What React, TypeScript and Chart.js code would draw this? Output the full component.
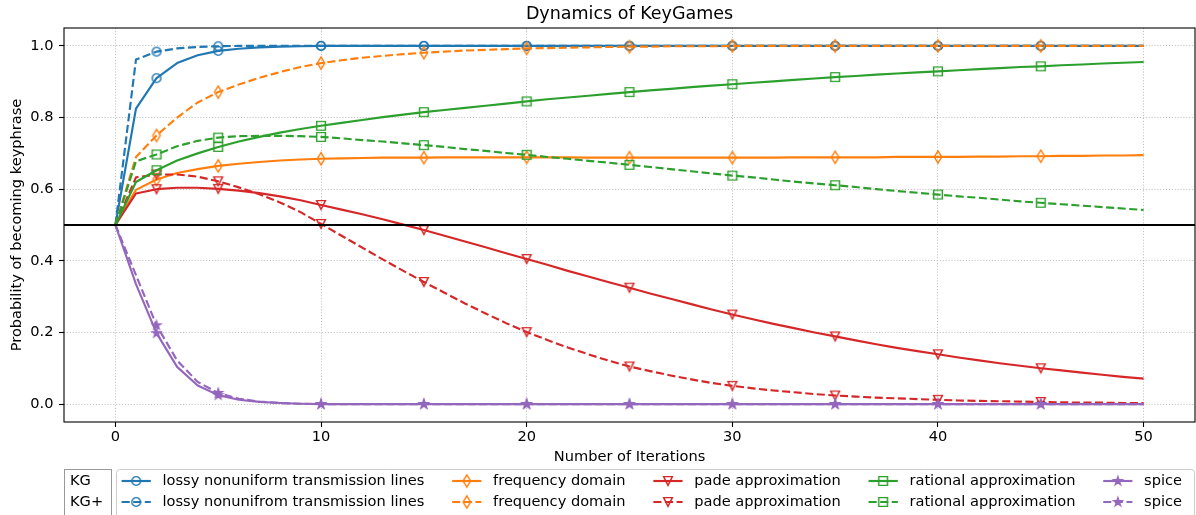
import React, { useEffect, useRef } from 'react';
import { Chart, registerables } from 'chart.js';

Chart.register(...registerables);

// ---------------- data ----------------
const ITERATIONS = [
  0, 1, 2, 3, 4, 5, 6, 7, 8, 9, 10, 11, 12, 13, 14, 15, 16, 17, 18, 19, 20, 21, 22, 23, 24, 25,
  26, 27, 28, 29, 30, 31, 32, 33, 34, 35, 36, 37, 38, 39, 40, 41, 42, 43, 44, 45, 46, 47, 48, 49, 50,
];
const MARKER_ITERATIONS = [2, 5, 10, 15, 20, 25, 30, 35, 40, 45];
const X_TICKS = [0, 10, 20, 30, 40, 50];
const Y_TICKS = [0, 0.2, 0.4, 0.6, 0.8, 1.0];
const THRESHOLD = 0.5;

const TITLE = 'Dynamics of KeyGames';
const X_TITLE = 'Number of Iterations';
const Y_TITLE = 'Probability of becoming keyphrase';
const ROW_LABELS = ['KG', 'KG+'];
const KG_LABELS = ['lossy nonuniform transmission lines', 'frequency domain', 'pade approximation', 'rational approximation', 'spice'];
const KG_PLUS_LABELS = ['lossy nonunifrom transmission lines', 'frequency domain', 'pade approximation', 'rational approximation', 'spice'];

const KG_LOSSY = [
  0.5, 0.825, 0.91, 0.952, 0.974, 0.986, 0.992, 0.996, 0.998, 0.999, 1.0, 1.0, 1.0, 1.0, 1.0, 1.0, 1.0,
  1.0, 1.0, 1.0, 1.0, 1.0, 1.0, 1.0, 1.0, 1.0, 1.0, 1.0, 1.0, 1.0, 1.0, 1.0, 1.0, 1.0, 1.0, 1.0, 1.0,
  1.0, 1.0, 1.0, 1.0, 1.0, 1.0, 1.0, 1.0, 1.0, 1.0, 1.0, 1.0, 1.0, 1.0,
];
const KG_PLUS_LOSSY = [
  0.5, 0.962, 0.984, 0.993, 0.997, 0.999, 1.0, 1.0, 1.0, 1.0, 1.0, 1.0, 1.0, 1.0, 1.0, 1.0, 1.0,
  1.0, 1.0, 1.0, 1.0, 1.0, 1.0, 1.0, 1.0, 1.0, 1.0, 1.0, 1.0, 1.0, 1.0, 1.0, 1.0, 1.0, 1.0, 1.0, 1.0,
  1.0, 1.0, 1.0, 1.0, 1.0, 1.0, 1.0, 1.0, 1.0, 1.0, 1.0, 1.0, 1.0, 1.0,
];
const KG_FREQ = [
  0.5, 0.598, 0.627, 0.645, 0.656, 0.665, 0.671, 0.676, 0.68, 0.683, 0.685, 0.686, 0.687, 0.688, 0.688,
  0.688, 0.689, 0.689, 0.689, 0.689, 0.689, 0.689, 0.689, 0.688, 0.688, 0.688, 0.688, 0.688, 0.688,
  0.688, 0.688, 0.688, 0.688, 0.689, 0.689, 0.689, 0.689, 0.689, 0.69, 0.69, 0.69, 0.69, 0.691, 0.691,
  0.692, 0.692, 0.693, 0.693, 0.694, 0.694, 0.695,
];
const KG_PLUS_FREQ = [
  0.5, 0.69, 0.75, 0.8, 0.842, 0.871, 0.892, 0.911, 0.927, 0.941, 0.952, 0.96, 0.967, 0.972, 0.977,
  0.981, 0.984, 0.987, 0.989, 0.991, 0.993, 0.994, 0.995, 0.996, 0.997, 0.998, 0.998, 0.999, 0.999,
  0.999, 1.0, 1.0, 1.0, 1.0, 1.0, 1.0, 1.0, 1.0, 1.0, 1.0, 1.0, 1.0, 1.0, 1.0, 1.0, 1.0, 1.0, 1.0,
  1.0, 1.0, 1.0,
];
const KG_PADE = [
  0.5, 0.588, 0.6, 0.604, 0.604, 0.601, 0.596, 0.589, 0.58, 0.569, 0.556, 0.543, 0.53, 0.516, 0.501,
  0.486, 0.47, 0.454, 0.438, 0.421, 0.405, 0.389, 0.372, 0.356, 0.34, 0.325, 0.309, 0.294, 0.279,
  0.264, 0.25, 0.237, 0.224, 0.212, 0.2, 0.189, 0.178, 0.167, 0.157, 0.148, 0.139, 0.13, 0.122, 0.114,
  0.107, 0.1, 0.094, 0.088, 0.082, 0.076, 0.071,
];
const KG_PLUS_PADE = [
  0.5, 0.633, 0.641, 0.641, 0.635, 0.622, 0.605, 0.586, 0.563, 0.536, 0.503, 0.47, 0.437, 0.404,
  0.372, 0.341, 0.311, 0.281, 0.253, 0.226, 0.201, 0.179, 0.158, 0.139, 0.121, 0.105, 0.092, 0.08,
  0.069, 0.059, 0.051, 0.044, 0.038, 0.033, 0.028, 0.024, 0.021, 0.018, 0.016, 0.014, 0.012, 0.01,
  0.009, 0.008, 0.007, 0.006, 0.005, 0.004, 0.004, 0.003, 0.003,
];
const KG_RATIONAL = [
  0.5, 0.62, 0.653, 0.68, 0.7, 0.718, 0.733, 0.746, 0.758, 0.768, 0.777, 0.785, 0.793, 0.801, 0.808,
  0.815, 0.821, 0.827, 0.833, 0.839, 0.845, 0.851, 0.856, 0.861, 0.866, 0.871, 0.876, 0.88, 0.885,
  0.889, 0.893, 0.897, 0.901, 0.905, 0.909, 0.913, 0.916, 0.92, 0.923, 0.926, 0.929, 0.932, 0.935,
  0.938, 0.941, 0.943, 0.946, 0.948, 0.951, 0.953, 0.955,
];
const KG_PLUS_RATIONAL = [
  0.5, 0.678, 0.697, 0.72, 0.735, 0.744, 0.748, 0.749, 0.749, 0.748, 0.746, 0.742, 0.737, 0.733,
  0.728, 0.723, 0.718, 0.712, 0.707, 0.701, 0.696, 0.69, 0.685, 0.679, 0.674, 0.668, 0.662, 0.656,
  0.65, 0.644, 0.638, 0.633, 0.627, 0.621, 0.616, 0.611, 0.606, 0.6, 0.595, 0.59, 0.585, 0.58, 0.576,
  0.571, 0.566, 0.562, 0.558, 0.554, 0.55, 0.546, 0.542,
];
const KG_SPICE = [
  0.5, 0.335, 0.198, 0.104, 0.052, 0.025, 0.012, 0.006, 0.003, 0.001, 0.0, 0.0, 0.0, 0.0, 0.0, 0.0,
  0.0, 0.0, 0.0, 0.0, 0.0, 0.0, 0.0, 0.0, 0.0, 0.0, 0.0, 0.0, 0.0, 0.0, 0.0, 0.0, 0.0, 0.0, 0.0, 0.0,
  0.0, 0.0, 0.0, 0.0, 0.0, 0.0, 0.0, 0.0, 0.0, 0.0, 0.0, 0.0, 0.0, 0.0, 0.0,
];
const KG_PLUS_SPICE = [
  0.5, 0.36, 0.22, 0.122, 0.062, 0.031, 0.015, 0.007, 0.003, 0.001, 0.0, 0.0, 0.0, 0.0, 0.0, 0.0,
  0.0, 0.0, 0.0, 0.0, 0.0, 0.0, 0.0, 0.0, 0.0, 0.0, 0.0, 0.0, 0.0, 0.0, 0.0, 0.0, 0.0, 0.0, 0.0, 0.0,
  0.0, 0.0, 0.0, 0.0, 0.0, 0.0, 0.0, 0.0, 0.0, 0.0, 0.0, 0.0, 0.0, 0.0, 0.0,
];

// ---------------- styles ----------------
const FONT = '"DejaVu Sans", "Liberation Sans", sans-serif';
const COLORS = ['#1f77b4', '#ff7f0e', '#d62728', '#2ca02c', '#9467bd'];
const MARKERS = ['circle', 'thinDiamond', 'triangleDown', 'square', 'star'];
const KG_SERIES = [KG_LOSSY, KG_FREQ, KG_PADE, KG_RATIONAL, KG_SPICE];
const KG_PLUS_SERIES = [KG_PLUS_LOSSY, KG_PLUS_FREQ, KG_PLUS_PADE, KG_PLUS_RATIONAL, KG_PLUS_SPICE];
const DASH = [8.1, 3.5];
const LINE_W = 2.15;
const FS = 14.6;

function makeMarker(kind: string, color: string): HTMLCanvasElement {
  const c = document.createElement('canvas');
  c.width = 22;
  c.height = 22;
  const ctx = c.getContext('2d')!;
  ctx.translate(11, 11);
  ctx.strokeStyle = color;
  ctx.fillStyle = color;
  ctx.lineWidth = 1.45;
  ctx.lineJoin = 'miter';
  const S = 8.75;
  const h = S / 2;
  ctx.beginPath();
  if (kind === 'circle') {
    ctx.arc(0, 0, h, 0, Math.PI * 2);
  } else if (kind === 'thinDiamond') {
    ctx.moveTo(0, -0.707 * S);
    ctx.lineTo(0.424 * S, 0);
    ctx.lineTo(0, 0.707 * S);
    ctx.lineTo(-0.424 * S, 0);
    ctx.closePath();
  } else if (kind === 'triangleDown') {
    ctx.moveTo(-h, -h);
    ctx.lineTo(h, -h);
    ctx.lineTo(0, h);
    ctx.closePath();
  } else if (kind === 'square') {
    ctx.rect(-h, -h, S, S);
  } else {
    const inner = h * 0.381966;
    for (let k = 0; k < 10; k++) {
      const r = k % 2 === 0 ? h : inner;
      const a = -Math.PI / 2 + (k * Math.PI) / 5;
      const px = r * Math.cos(a);
      const py = r * Math.sin(a);
      if (k === 0) ctx.moveTo(px, py);
      else ctx.lineTo(px, py);
    }
    ctx.closePath();
    ctx.fill();
  }
  ctx.stroke();
  return c;
}

export default function App() {
  const ref = useRef<HTMLCanvasElement | null>(null);

  useEffect(() => {
    const canvas = ref.current;
    if (!canvas) return;
    const markerImgs = COLORS.map((col, i) => makeMarker(MARKERS[i], col));

    const datasets: any[] = [];
    let idx = 0;
    for (let m = 0; m < 5; m++) {
      [KG_SERIES[m], KG_PLUS_SERIES[m]].forEach((vals, row) => {
        datasets.push({
          label: (row === 0 ? KG_LABELS : KG_PLUS_LABELS)[m],
          data: ITERATIONS.map((x, i) => ({ x, y: vals[i] })),
          borderColor: COLORS[m],
          backgroundColor: COLORS[m],
          borderWidth: LINE_W,
          borderDash: row === 1 ? DASH : [],
          borderJoinStyle: 'round',
          tension: 0,
          fill: false,
          pointStyle: markerImgs[m],
          pointRadius: ITERATIONS.map((x) => (MARKER_ITERATIONS.includes(x) ? 4 : 0)),
          pointHoverRadius: 0,
          order: -idx,
        });
        idx++;
      });
    }

    const decor = {
      id: 'decor',
      afterDatasetsDraw(chart: any) {
        const { ctx, chartArea } = chart;
        const y = chart.scales.y.getPixelForValue(THRESHOLD);
        ctx.save();
        ctx.strokeStyle = '#000';
        ctx.lineWidth = 2.1;
        ctx.beginPath();
        ctx.moveTo(chartArea.left, y);
        ctx.lineTo(chartArea.right, y);
        ctx.stroke();
        ctx.restore();
      },
      afterDraw(chart: any) {
        const { ctx, chartArea } = chart;
        ctx.save();
        // frame
        ctx.strokeStyle = '#000';
        ctx.lineWidth = 1.1;
        ctx.strokeRect(chartArea.left, chartArea.top, chartArea.right - chartArea.left, chartArea.bottom - chartArea.top);
        // title
        ctx.fillStyle = '#000';
        ctx.font = `17.5px ${FONT}`;
        ctx.textAlign = 'center';
        ctx.textBaseline = 'middle';
        ctx.fillText(TITLE, (chartArea.left + chartArea.right) / 2, 14.5);

        // legend
        const fs = FS;
        ctx.font = `${fs}px ${FONT}`;
        ctx.textAlign = 'left';
        const rowY = [481, 502];
        // KG / KG+ box
        ctx.strokeStyle = '#999';
        ctx.lineWidth = 1;
        ctx.fillStyle = '#fff';
        ctx.fillRect(64.5, 469.5, 47, 60);
        ctx.strokeRect(64.5, 469.5, 47, 60);
        ctx.fillStyle = '#000';
        ROW_LABELS.forEach((t, r) => ctx.fillText(t, 70, rowY[r]));
        // main legend box
        ctx.strokeStyle = '#cccccc';
        ctx.fillStyle = '#fff';
        ctx.beginPath();
        (ctx as any).roundRect(116.5, 469.5, 1078, 60, 3);
        ctx.fill();
        ctx.stroke();
        const handleLen = 2 * fs;
        const pad = 0.8 * fs;
        const colSpace = 2 * fs - 1.4;
        let x = 121.6;
        for (let m = 0; m < 5; m++) {
          const labels = [KG_LABELS[m], KG_PLUS_LABELS[m]];
          let maxW = 0;
          labels.forEach((lab, r) => {
            const y = rowY[r];
            ctx.save();
            ctx.strokeStyle = COLORS[m];
            ctx.lineWidth = LINE_W;
            ctx.setLineDash(r === 1 ? DASH : []);
            ctx.beginPath();
            ctx.moveTo(x, y);
            ctx.lineTo(x + handleLen, y);
            ctx.stroke();
            ctx.restore();
            const img = markerImgs[m];
            ctx.drawImage(img, x + handleLen / 2 - img.width / 2, y - img.height / 2);
            ctx.fillStyle = '#000';
            ctx.fillText(lab, x + handleLen + pad, y);
            maxW = Math.max(maxW, ctx.measureText(lab).width);
          });
          x += handleLen + pad + maxW + colSpace;
        }
        ctx.restore();
      },
    };

    const tickFont = { family: FONT, size: FS };
    const chart = new Chart(canvas, {
      type: 'line',
      data: { datasets },
      options: {
        animation: false,
        responsive: false,
        devicePixelRatio: 1,
        events: [],
        layout: { padding: { top: 28, right: 1, bottom: 48, left: 0 } },
        plugins: { legend: { display: false }, title: { display: false }, tooltip: { enabled: false } },
        scales: {
          x: {
            type: 'linear',
            min: -2.5,
            max: 52.5,
            afterBuildTicks: (s: any) => {
              s.ticks = X_TICKS.map((v) => ({ value: v }));
            },
            afterFit: (s: any) => {
              s.height = 45;
            },
            ticks: { color: '#000', font: tickFont, padding: 1.5, maxRotation: 0, autoSkip: false, callback: (v: any) => String(v) },
            grid: { color: '#b0b0b0', lineWidth: 0.8, tickLength: 5, tickColor: '#000', tickWidth: 1.1 },
            border: { display: false, dash: [1.1, 1.8] },
            title: { display: true, text: X_TITLE, color: '#000', font: tickFont, padding: { top: 0, bottom: 1.5 } },
          },
          y: {
            type: 'linear',
            min: -0.05,
            max: 1.05,
            afterBuildTicks: (s: any) => {
              s.ticks = Y_TICKS.map((v) => ({ value: v }));
            },
            afterFit: (s: any) => {
              s.width = 64;
            },
            ticks: { color: '#000', font: tickFont, padding: 5.5, autoSkip: false, callback: (v: any) => Number(v).toFixed(1) },
            grid: { color: '#b0b0b0', lineWidth: 0.8, tickLength: 5, tickColor: '#000', tickWidth: 1.1 },
            border: { display: false, dash: [1.1, 1.8] },
            title: { display: true, text: Y_TITLE, color: '#000', font: tickFont, padding: { top: 8.5, bottom: 0 } },
          },
        },
      },
      plugins: [decor],
    });
    return () => chart.destroy();
  }, []);

  return (
    <div style={{ position: 'absolute', left: 0, top: 0, width: 1196, height: 515, background: '#fff' }}>
      <canvas ref={ref} width={1196} height={515} style={{ display: 'block', width: 1196, height: 515 }} />
    </div>
  );
}
